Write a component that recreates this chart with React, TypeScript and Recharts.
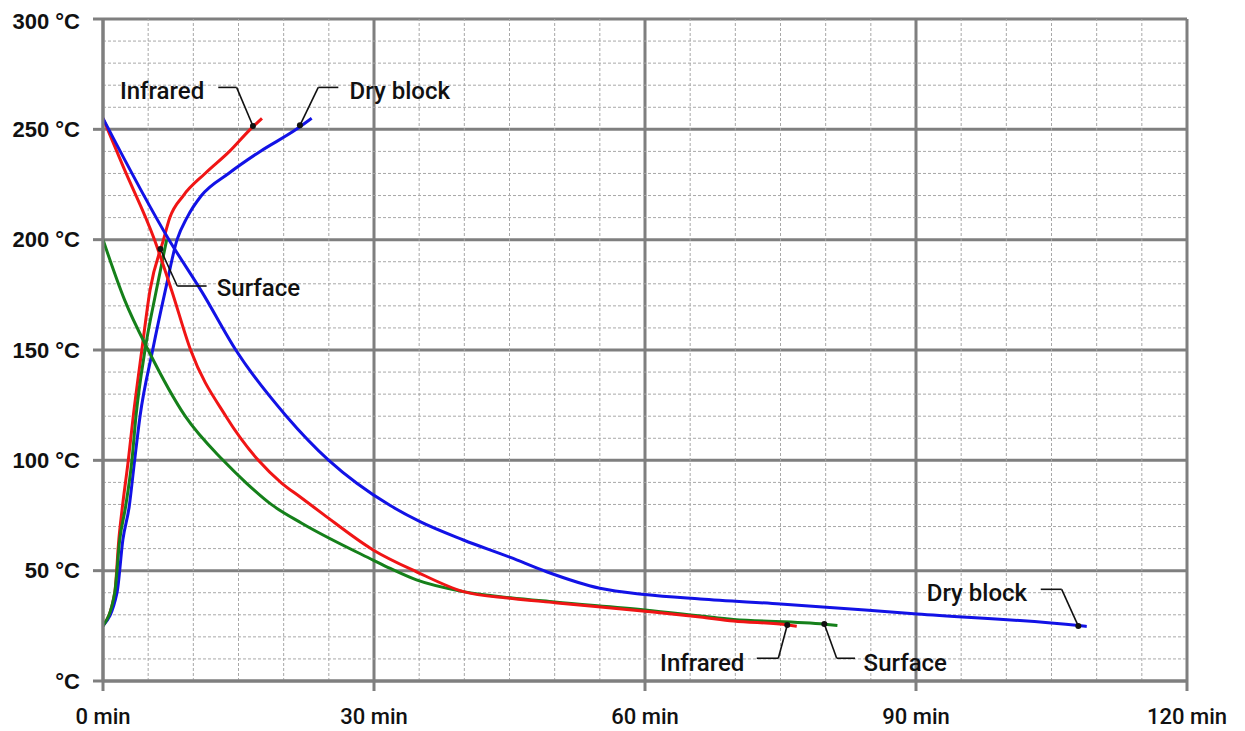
import { LineChart, Line, XAxis, YAxis, CartesianGrid, ReferenceLine, ReferenceDot } from "recharts";

// time (min) / temperature (°C) pairs
const irHeatMin = [0, 1.3, 1.75, 2.15, 2.8, 3.35, 4.3, 5.2, 6.7, 7.4, 8.9, 11.3, 14.0, 16.3, 17.6];
const irHeatC = [25, 40, 64, 79, 100, 120, 150, 177, 200, 210, 220, 230, 240, 250, 255];

const dryHeatMin = [0, 1.55, 2.2, 2.9, 3.5, 4.1, 5.5, 6.9, 8.2, 9.3, 10.9, 13.9, 17.4, 21.4, 23.1];
const dryHeatC = [25, 40, 64, 79, 100, 120, 150, 177, 200, 210, 220, 230, 240, 250, 255];

const surfHeatMin = [0, 1.3, 1.85, 2.5, 3.2, 3.65, 4.65, 5.9, 7.05];
const surfHeatC = [25, 40, 64, 79, 100, 120, 150, 177, 200];

const irCoolMin = [0, 2.25, 5.7, 7.6, 9.7, 13.6, 17.2, 19.8, 21.8, 24.4, 29.9, 34.7, 39.9, 45.1, 50, 60, 66.1, 69.8, 75.8, 76.8];
const irCoolC = [255, 233, 200, 177, 150, 120, 100, 89.6, 83.5, 75.5, 59.4, 49.5, 40.5, 37.5, 35.5, 31.6, 29, 27.2, 25.4, 24.8];

const surfCoolMin = [0, 2.4, 5.0, 9.1, 13.3, 15.9, 18.7, 22, 29.9, 31.8, 34.7, 39.9, 45.1, 50, 60, 69.8, 79.9, 81.3];
const surfCoolC = [200, 172.6, 150, 120, 100, 89.6, 79.8, 71.5, 54.8, 51, 45.8, 40.5, 37.7, 35.8, 32.2, 27.9, 25.7, 25.1];

const dryCoolMin = [0, 7.3, 11, 14.7, 20.3, 25, 28.1, 31.8, 35.1, 39.9, 45.1, 49.1, 55, 60, 66.1, 75, 90.1, 108, 108.9];
const dryCoolC = [255, 200, 176, 150, 120, 100, 89.6, 79.5, 72.2, 63.9, 56.0, 49.5, 42, 39.2, 37.2, 34.9, 30.4, 25.1, 24.7];

const minTicks = [0, 30, 60, 90, 120];
const tempTicks = [0, 50, 100, 150, 200, 250, 300];
const minorMin = [5, 10, 15, 20, 25, 35, 40, 45, 50, 55, 65, 70, 75, 80, 85, 95, 100, 105, 110, 115];
const minorTemp = [10, 20, 30, 40, 60, 70, 80, 90, 110, 120, 130, 140, 160, 170, 180, 190, 210, 220, 230, 240, 260, 270, 280, 290];

// callouts: text position, leader path (last point = dot on the curve)
const callouts = [
  { text: "Infrared", at: [11.2, 267.8], anchor: "end", path: [[12.76, 269], [14.79, 269], [16.6, 251.5]] },
  { text: "Dry block", at: [27.3, 267.8], anchor: "start", path: [[26.05, 269], [23.83, 269], [21.8, 251.8]] },
  { text: "Surface", at: [12.6, 178.3], anchor: "start", path: [[11.47, 179], [8.22, 179], [6.35, 195.8]] },
  { text: "Infrared", at: [71.0, 8.6], anchor: "end", path: [[72.37, 10.3], [74.76, 10.3], [75.75, 25.4]] },
  { text: "Surface", at: [84.2, 8.6], anchor: "start", path: [[83.25, 10.3], [81.22, 10.3], [79.85, 25.8]] },
  { text: "Dry block", at: [102.3, 40.3], anchor: "end", path: [[103.81, 41.55], [106.13, 41.55], [107.97, 24.9]] },
];

const zip = (t: number[], c: number[]) => t.map((v, i) => ({ t: v, T: c[i] }));

const series = [
  { key: "irHeat", data: zip(irHeatMin, irHeatC), color: "#f01515" },
  { key: "dryHeat", data: zip(dryHeatMin, dryHeatC), color: "#1212e6" },
  { key: "surfHeat", data: zip(surfHeatMin, surfHeatC), color: "#15801a" },
  { key: "surfCool", data: zip(surfCoolMin, surfCoolC), color: "#15801a" },
  { key: "irCool", data: zip(irCoolMin, irCoolC), color: "#f01515" },
  { key: "dryCool", data: zip(dryCoolMin, dryCoolC), color: "#1212e6" },
];

const gridMajor = "#7f7f7f";
const gridMinor = "#a8a8a8";
const labelFont = "Roboto, 'Noto Sans', sans-serif";

export default function App() {
  return (
    <LineChart
      width={1237}
      height={723}
      margin={{ top: 11, right: 58, left: 0, bottom: 10 }}
    >
      {minorMin.map((v) => (
        <ReferenceLine key={"mx" + v} x={v} stroke={gridMinor} strokeWidth={1} strokeDasharray="3 2" />
      ))}
      {minorTemp.map((v) => (
        <ReferenceLine key={"my" + v} y={v} stroke={gridMinor} strokeWidth={1} strokeDasharray="3 2" />
      ))}
      <CartesianGrid stroke={gridMajor} strokeWidth={3} />
      <XAxis
        dataKey="t"
        type="number"
        domain={[0, 120]}
        ticks={minTicks}
        allowDataOverflow
        height={40}
        stroke={gridMajor}
        axisLine={{ stroke: gridMajor, strokeWidth: 3 }}
        tickLine={{ stroke: gridMajor, strokeWidth: 3 }}
        tickSize={10}
        tickMargin={17}
        tickFormatter={(v) => `${v} min`}
        tick={{ fill: "#111", fontSize: 22, fontFamily: labelFont, fontWeight: 500 }}
      />
      <YAxis
        type="number"
        domain={[0, 300]}
        ticks={tempTicks}
        width={95}
        axisLine={{ stroke: gridMajor, strokeWidth: 3 }}
        tickLine={{ stroke: gridMajor, strokeWidth: 3 }}
        tickSize={10}
        tickMargin={13}
        tickFormatter={(v) => (v === 0 ? "°C" : `${v} °C`)}
        tick={{ fill: "#111", fontSize: 22, fontFamily: "'Liberation Sans', Arial, sans-serif", fontWeight: 700 }}
      />
      {series.map((s) => (
        <Line
          key={s.key}
          data={s.data}
          dataKey="T"
          type="monotone"
          stroke={s.color}
          strokeWidth={3}
          dot={false}
          activeDot={false}
          isAnimationActive={false}
        />
      ))}
      {callouts.map((c, i) =>
        c.path.slice(1).map((p, j) => (
          <ReferenceLine
            key={`seg${i}-${j}`}
            segment={[
              { x: c.path[j][0], y: c.path[j][1] },
              { x: p[0], y: p[1] },
            ]}
            stroke="#111"
            strokeWidth={1.6}
          />
        ))
      )}
      {callouts.map((c, i) => (
        <ReferenceDot
          key={`dot${i}`}
          x={c.path[2][0]}
          y={c.path[2][1]}
          r={3}
          fill="#111"
          stroke="none"
        />
      ))}
      {callouts.map((c, i) => (
        <ReferenceDot
          key={`txt${i}`}
          x={c.at[0]}
          y={c.at[1]}
          r={0}
          shape={(props: any) => (
            <text
              x={props.cx}
              y={props.cy}
              dy="0.36em"
              textAnchor={c.anchor}
              fill="#111"
              fontSize={24}
              fontWeight={500}
              fontFamily={labelFont}
            >
              {c.text}
            </text>
          )}
        />
      ))}
    </LineChart>
  );
}
